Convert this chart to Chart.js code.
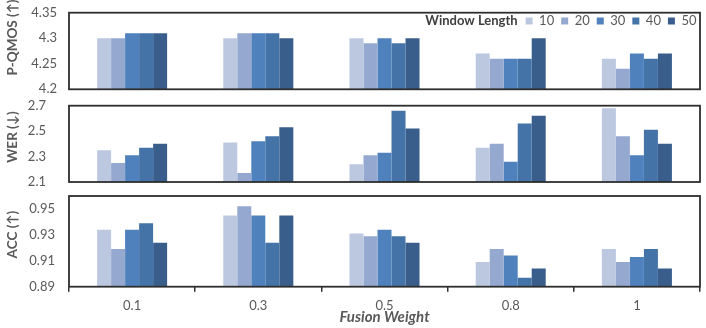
<!DOCTYPE html>
<html>
<head>
<meta charset="utf-8">
<script src="https://cdn.jsdelivr.net/npm/chart.js@4.4.1/dist/chart.umd.min.js"></script>
<style>
  html, body { margin: 0; padding: 0; background: #fff; }
  #wrap { position: relative; width: 706px; height: 328px; }
  .c { position: absolute; left: 0; width: 706px; }
</style>
</head>
<body>
<div id="wrap">
  <div class="c" style="top:0;height:97px"><canvas id="c1"></canvas></div>
  <div class="c" style="top:97px;height:90px"><canvas id="c2"></canvas></div>
  <div class="c" style="top:187px;height:141px"><canvas id="c3"></canvas></div>
</div>
<script>
const categories = ['0.1', '0.3', '0.5', '0.8', '1'];
const windowLengths = ['10', '20', '30', '40', '50'];
const colors = ['#BCC8E0', '#95A8D0', '#4F81BD', '#4473A7', '#3A5E8C'];

const qmos10 = [4.30, 4.30, 4.30, 4.27, 4.26];
const qmos20 = [4.30, 4.31, 4.29, 4.26, 4.24];
const qmos30 = [4.31, 4.31, 4.30, 4.26, 4.27];
const qmos40 = [4.31, 4.31, 4.29, 4.26, 4.26];
const qmos50 = [4.31, 4.30, 4.30, 4.30, 4.27];

const wer10 = [2.35, 2.41, 2.24, 2.37, 2.68];
const wer20 = [2.25, 2.17, 2.31, 2.40, 2.46];
const wer30 = [2.31, 2.42, 2.33, 2.26, 2.31];
const wer40 = [2.37, 2.46, 2.66, 2.56, 2.51];
const wer50 = [2.40, 2.53, 2.52, 2.62, 2.40];

const acc10 = [0.934, 0.945, 0.931, 0.909, 0.919];
const acc20 = [0.919, 0.952, 0.929, 0.919, 0.909];
const acc30 = [0.934, 0.945, 0.934, 0.914, 0.913];
const acc40 = [0.939, 0.924, 0.929, 0.897, 0.919];
const acc50 = [0.924, 0.945, 0.924, 0.904, 0.904];

const qmosTicks = [4.2, 4.25, 4.3, 4.35];
const qmosTickLabels = ['4.2', '4.25', '4.3', '4.35'];
const werTicks = [2.1, 2.3, 2.5, 2.7];
const werTickLabels = ['2.1', '2.3', '2.5', '2.7'];
const accTicks = [0.89, 0.91, 0.93, 0.95];
const accTickLabels = ['0.89', '0.91', '0.93', '0.95'];

const FONT = 'Lato, "Open Sans", sans-serif';
const TXT = '#595959';

const boxPlugin = {
  id: 'box',
  afterDatasetsDraw(chart) {
    const a = chart.chartArea, ctx = chart.ctx;
    ctx.save();
    ctx.strokeStyle = '#2e2e2e';
    ctx.lineWidth = 1.8;
    ctx.strokeRect(a.left, a.top, a.right - a.left, a.bottom - a.top);
    ctx.restore();
  }
};

function makeDatasets(series) {
  return series.map((d, i) => ({
    label: windowLengths[i],
    data: d,
    backgroundColor: colors[i],
    borderWidth: 0,
    categoryPercentage: 0.555,
    barPercentage: 1.0
  }));
}

function yScale(min, max, ticks, labels, title, tickPad) {
  return {
    min: min, max: max,
    afterFit: s => { s.width = 69; s.paddingTop = 0; s.paddingBottom = 0; },
    afterBuildTicks: s => { s.ticks = ticks.map(v => ({ value: v })); },
    grid: { display: false, drawTicks: false },
    border: { display: false },
    ticks: {
      padding: tickPad,
      color: TXT,
      font: { family: FONT, size: 13 },
      callback: (v) => { const k = ticks.indexOf(v); return k >= 0 ? labels[k] : ''; }
    },
    title: {
      display: true, text: title, color: TXT,
      font: { family: FONT, size: 13.5, weight: 'bold' },
      padding: { top: 4.5, bottom: 0 }
    }
  };
}

const legendPlugin = {
  id: 'legendFix',
  beforeInit(chart) {
    const leg = chart.legend;
    if (!leg) return;
    const f = leg.fit;
    leg.fit = function () { f.call(this); this.height = 0; };
  },
  afterLayout(chart) {
    const leg = chart.legend;
    leg.top = 7.5;
    leg.bottom = leg.top + 30;
    leg.height = 30;
    leg.right = 703.5;
  },
  afterDraw(chart) {
    const leg = chart.legend;
    const x0 = leg.right - leg.lineWidths[0];
    const ctx = chart.ctx;
    ctx.save();
    ctx.font = 'bold 13px ' + FONT;
    ctx.fillStyle = '#404040';
    ctx.textAlign = 'right';
    ctx.textBaseline = 'middle';
    ctx.fillText('Window Length', x0 - 8, 21);
    ctx.restore();
  }
};

Chart.defaults.animation = false;

new Chart(document.getElementById('c1'), {
  type: 'bar',
  data: { labels: categories, datasets: makeDatasets([qmos10, qmos20, qmos30, qmos40, qmos50]) },
  options: {
    responsive: true, maintainAspectRatio: false,
    layout: { padding: { top: 12.7, bottom: 7.7, left: 0, right: 6 } },
    plugins: {
      legend: {
        display: true, position: 'top', align: 'end',
        labels: { boxWidth: 7, boxHeight: 7, padding: 7, color: TXT, font: { family: FONT, size: 13 } }
      },
      tooltip: { enabled: false }
    },
    scales: {
      x: { display: false },
      y: yScale(4.2, 4.35, qmosTicks, qmosTickLabels, '\u2002\u2002\u2002\u2002P-QMOS (↑)', 12)
    }
  },
  plugins: [boxPlugin, legendPlugin]
});

new Chart(document.getElementById('c2'), {
  type: 'bar',
  data: { labels: categories, datasets: makeDatasets([wer10, wer20, wer30, wer40, wer50]) },
  options: {
    responsive: true, maintainAspectRatio: false,
    layout: { padding: { top: 8.7, bottom: 5, left: 0, right: 6 } },
    plugins: { legend: { display: false }, tooltip: { enabled: false } },
    scales: {
      x: { display: false },
      y: yScale(2.1, 2.7, werTicks, werTickLabels, '\u2002\u2002WER (↓)', 23)
    }
  },
  plugins: [boxPlugin]
});

new Chart(document.getElementById('c3'), {
  type: 'bar',
  data: { labels: categories, datasets: makeDatasets([acc10, acc20, acc30, acc40, acc50]) },
  options: {
    responsive: true, maintainAspectRatio: false,
    layout: { padding: { top: 9, bottom: 0, left: 0, right: 6 } },
    plugins: { legend: { display: false }, tooltip: { enabled: false } },
    scales: {
      x: {
        afterFit: s => { s.height = 41.3; s.paddingLeft = 0; s.paddingRight = 0; },
        grid: { display: true, drawOnChartArea: false, drawTicks: true, tickLength: 5, color: '#2e2e2e', lineWidth: 1.5 },
        border: { display: false },
        ticks: { padding: 6, color: TXT, font: { family: FONT, size: 13 } },
        title: {
          display: true, text: 'Fusion Weight', color: TXT,
          font: { family: FONT, size: 15, weight: 'bold', style: 'italic' },
          padding: { top: 0, bottom: 2 }
        }
      },
      y: yScale(0.89, 0.96, accTicks, accTickLabels, '\u2002\u2002ACC (↑)', 14)
    }
  },
  plugins: [boxPlugin]
});
</script>
</body>
</html>
